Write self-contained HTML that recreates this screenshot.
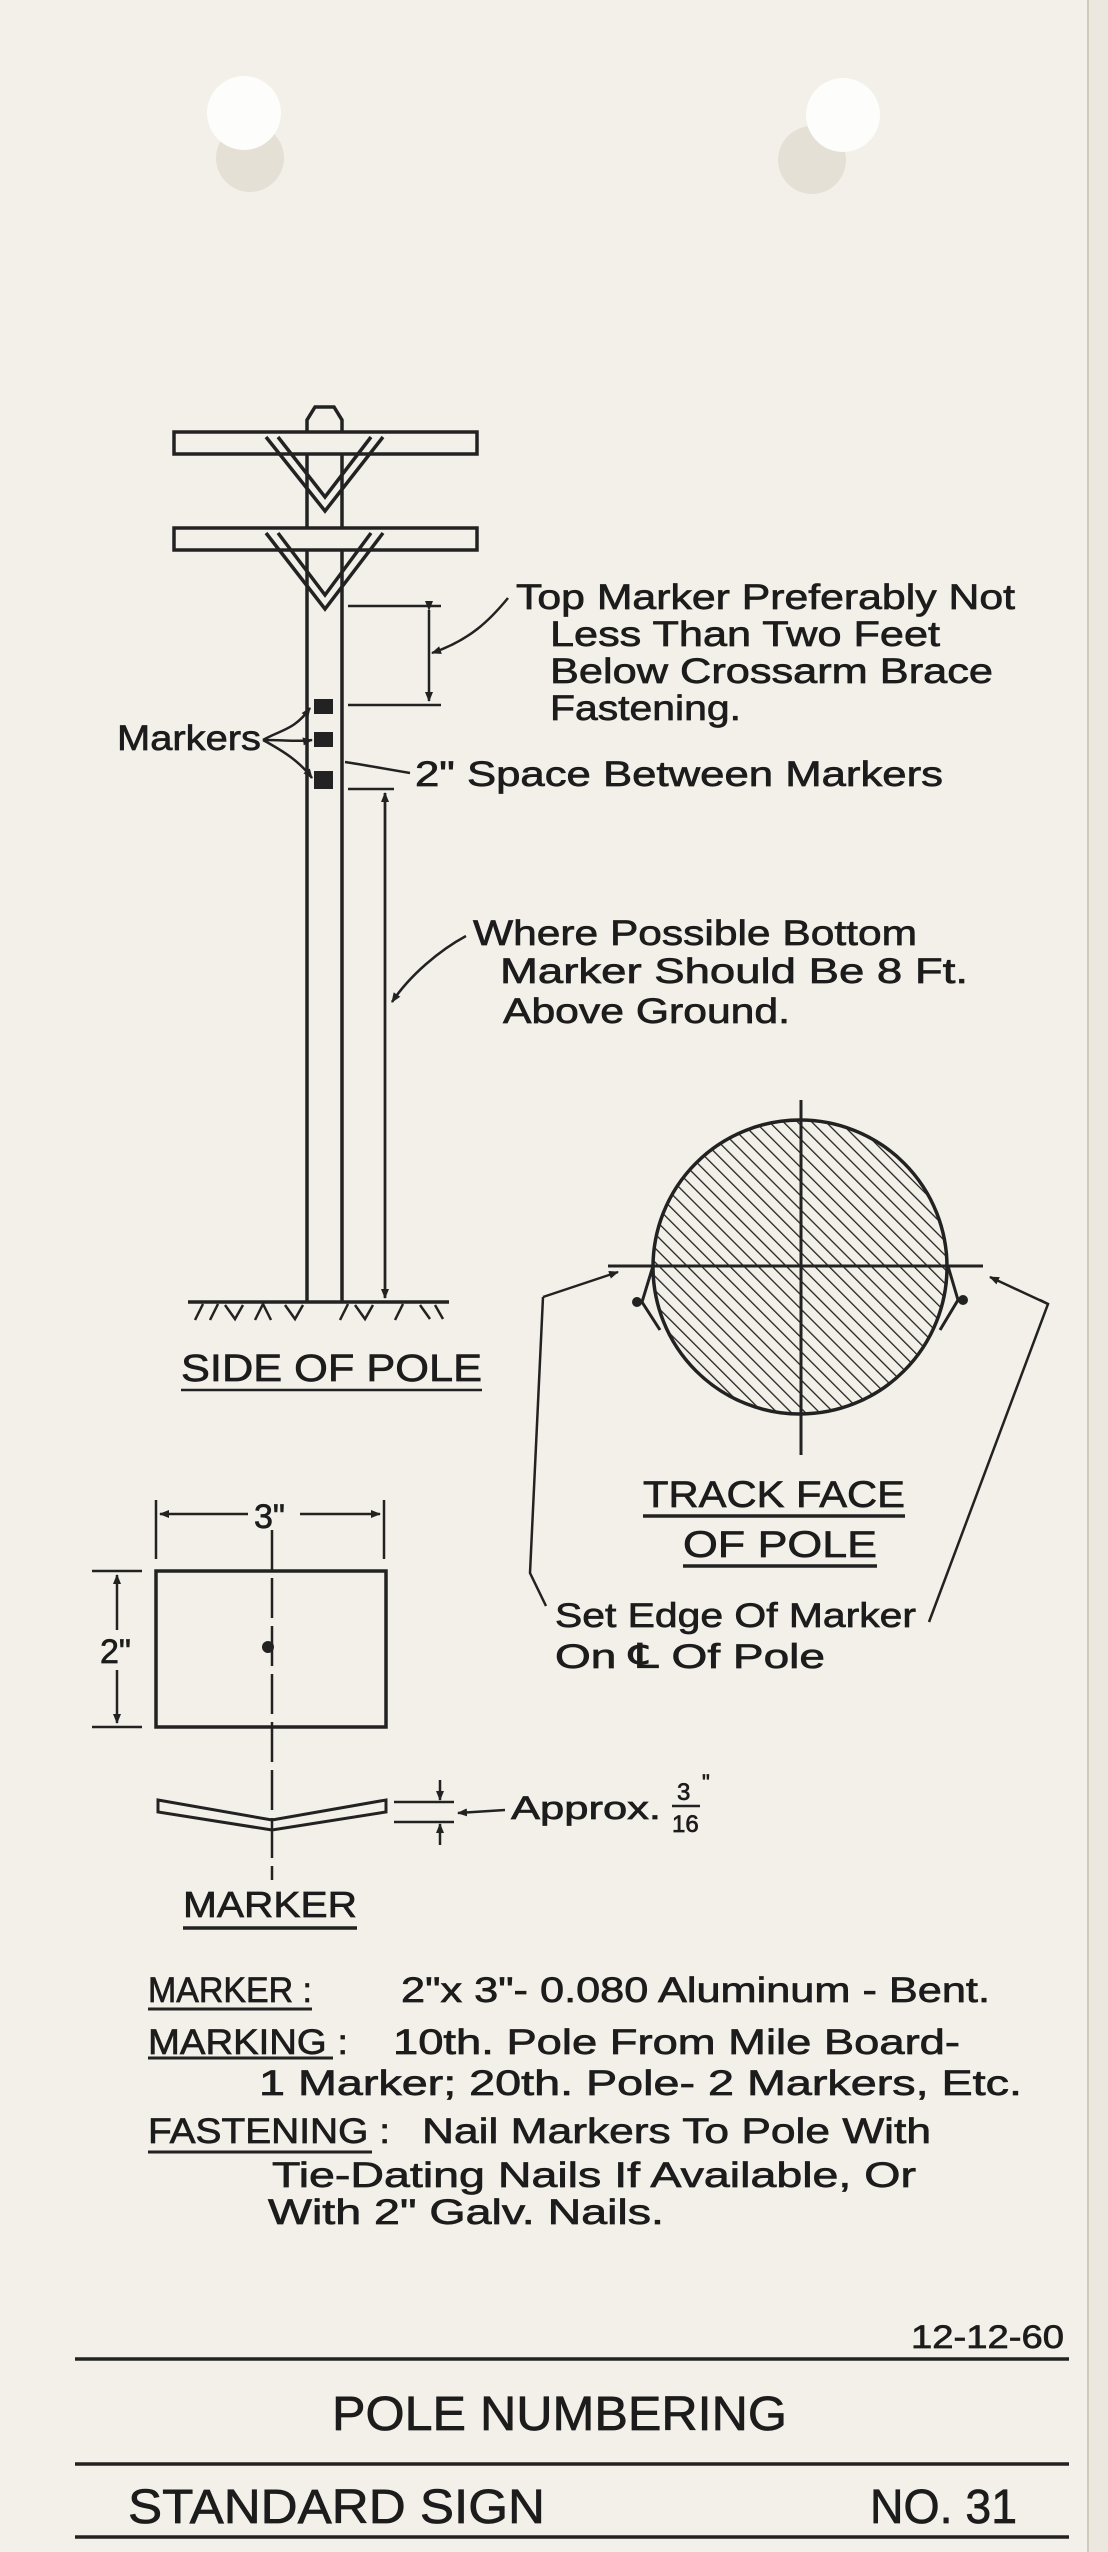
<!DOCTYPE html>
<html><head><meta charset="utf-8"><style>
html,body{margin:0;padding:0;background:#f2f0e8;}
svg{display:block;}
text{font-family:"Liberation Sans",sans-serif;fill:#1c1c1c;stroke:#1c1c1c;stroke-width:0.7;}
</style></head><body>
<svg width="1108" height="2552" viewBox="0 0 1108 2552" xmlns="http://www.w3.org/2000/svg">
<defs>
<pattern id="h" patternUnits="userSpaceOnUse" width="10" height="10" patternTransform="rotate(-45)">
<line x1="0" y1="0" x2="0" y2="10" stroke="#222" stroke-width="2.6"/>
</pattern>
<clipPath id="c"><circle cx="800" cy="1267" r="147"/></clipPath>
<marker id="a" markerWidth="10" markerHeight="10" refX="9" refY="5" orient="auto" markerUnits="userSpaceOnUse"><path d="M0,1 L10,5 L0,9 Z" fill="#222"/></marker>
</defs>
<rect width="1108" height="2552" fill="#f2f0e8"/>
<rect x="1088" y="0" width="20" height="2552" fill="#ebe8df"/>
<line x1="1088" y1="0" x2="1088" y2="2552" stroke="#cfcabc" stroke-width="2"/>
<!-- holes -->
<circle cx="250" cy="158" r="34" fill="#e4e0d5"/>
<circle cx="244" cy="113" r="37" fill="#fdfdfb"/>
<circle cx="812" cy="160" r="34" fill="#e4e0d5"/>
<circle cx="843" cy="115" r="37" fill="#fdfdfb"/>

<g stroke="#222" stroke-width="3.5" fill="none">
<!-- pole -->
<path d="M307,1302 V420 L315,407 H334 L342,420 V1302"/>
<rect x="174" y="432" width="303" height="22" fill="#f2f0e8"/>
<rect x="174" y="528" width="303" height="22" fill="#f2f0e8"/>
<path d="M266,437 L325,511 L383,437 M278,437 L325,497 L371,437"/>
<path d="M266,533 L325,609 L383,533 M278,533 L325,595 L371,533"/>
<line x1="188" y1="1302" x2="449" y2="1302"/>
<path d="M195,1320 l8,-16 M210,1320 l8,-16 M225,1305 l10,14 l8,-14 M255,1320 l8,-16 l8,16 M285,1305 l10,14 l8,-14 M340,1320 l8,-16 M355,1305 l10,14 l8,-14 M395,1320 l8,-16 M420,1305 l10,14 M435,1305 l8,14" stroke-width="2.5"/>
</g>
<rect x="314" y="699" width="19" height="15" fill="#222"/>
<rect x="314" y="732" width="19" height="15" fill="#222"/>
<rect x="314" y="771" width="19" height="18" fill="#222"/>
<g stroke="#222" stroke-width="2.5" fill="none">
<line x1="348" y1="606" x2="441" y2="606"/><line x1="348" y1="705" x2="441" y2="705"/>
<line x1="429" y1="610" x2="429" y2="701" marker-start="url(#a)" marker-end="url(#a)"/>
<path d="M508,598 C490,620 470,640 432,653" marker-end="url(#a)"/>
<line x1="348" y1="789" x2="394" y2="789"/>
<line x1="385" y1="793" x2="385" y2="1298" marker-end="url(#a)"/>
<line x1="385" y1="1298" x2="385" y2="793" marker-end="url(#a)"/>
<path d="M466,936 C440,950 410,975 392,1002" marker-end="url(#a)"/>
<path d="M263,740 C280,730 295,730 310,708" marker-end="url(#a)"/>
<path d="M263,740 C285,740 300,742 312,740" marker-end="url(#a)"/>
<path d="M263,740 C285,752 300,762 312,778" marker-end="url(#a)"/>
<path d="M410,773 C380,768 365,765 345,762"/>
<line x1="181" y1="1390" x2="482" y2="1390"/>
</g>
<text x="516" y="609" font-size="35" textLength="499" lengthAdjust="spacingAndGlyphs">Top Marker Preferably Not</text>
<text x="550" y="646" font-size="35" textLength="390" lengthAdjust="spacingAndGlyphs">Less Than Two Feet</text>
<text x="550" y="683" font-size="35" textLength="443" lengthAdjust="spacingAndGlyphs">Below Crossarm Brace</text>
<text x="550" y="720" font-size="35" textLength="191" lengthAdjust="spacingAndGlyphs">Fastening.</text>
<text x="117" y="750" font-size="35" textLength="144" lengthAdjust="spacingAndGlyphs">Markers</text>
<text x="415" y="786" font-size="35" textLength="528" lengthAdjust="spacingAndGlyphs">2" Space Between Markers</text>
<text x="473" y="945" font-size="35" textLength="444" lengthAdjust="spacingAndGlyphs">Where Possible Bottom</text>
<text x="500" y="983" font-size="35" textLength="468" lengthAdjust="spacingAndGlyphs">Marker Should Be 8 Ft.</text>
<text x="503" y="1023" font-size="35" textLength="287" lengthAdjust="spacingAndGlyphs">Above Ground.</text>
<text x="181" y="1381" font-size="38" textLength="301" lengthAdjust="spacingAndGlyphs">SIDE OF POLE</text>

<!-- circle -->
<rect x="640" y="1110" width="330" height="320" fill="url(#h)" clip-path="url(#c)"/>
<g stroke="#222" stroke-width="3.5" fill="none">
<circle cx="800" cy="1267" r="147"/>
<line x1="608" y1="1266" x2="983" y2="1266" stroke-width="3"/>
<line x1="801" y1="1100" x2="801" y2="1455" stroke-width="3"/>
<path d="M653,1266 L642,1302 L660,1330 M948,1266 L958,1300 L940,1330" stroke-width="3"/>
<path d="M543,1297 L530,1573 L546,1606" stroke-width="2.5"/>
<path d="M1040,1300 L1048,1304 L929,1622" stroke-width="2.5"/>
<line x1="1048" y1="1304" x2="990" y2="1277" stroke-width="2.5" marker-end="url(#a)"/>
<line x1="543" y1="1297" x2="618" y2="1272" stroke-width="2.5" marker-end="url(#a)"/>
<line x1="643" y1="1516" x2="905" y2="1516"/>
<line x1="683" y1="1566" x2="877" y2="1566"/>
</g>
<circle cx="637" cy="1302" r="5" fill="#222"/>
<circle cx="963" cy="1300" r="5" fill="#222"/>
<text x="643" y="1507" font-size="37" textLength="262" lengthAdjust="spacingAndGlyphs">TRACK FACE</text>
<text x="683" y="1557" font-size="37" textLength="194" lengthAdjust="spacingAndGlyphs">OF POLE</text>
<text x="555" y="1627" font-size="34" textLength="361" lengthAdjust="spacingAndGlyphs">Set Edge Of Marker</text>
<text x="555" y="1668" font-size="34" textLength="270" lengthAdjust="spacingAndGlyphs">On ℄ Of Pole</text>

<!-- marker detail -->
<g stroke="#222" stroke-width="3.5" fill="none">
<rect x="156" y="1571" width="230" height="156"/>
<path d="M156,1500 V1559 M384,1500 V1559" stroke-width="2.5"/>
<line x1="248" y1="1514" x2="160" y2="1514" stroke-width="2.5" marker-end="url(#a)"/>
<line x1="300" y1="1514" x2="380" y2="1514" stroke-width="2.5" marker-end="url(#a)"/>
<path d="M92,1571 H142 M92,1727 H142" stroke-width="2.5"/>
<line x1="117" y1="1630" x2="117" y2="1575" stroke-width="2.5" marker-end="url(#a)"/>
<line x1="117" y1="1670" x2="117" y2="1723" stroke-width="2.5" marker-end="url(#a)"/>
<line x1="272" y1="1530" x2="272" y2="1880" stroke-width="2.5" stroke-dasharray="40,8"/>
<path d="M158,1800 L272,1820 L386,1800 L386,1812 L272,1830 L158,1812 Z" stroke-width="3"/>
<path d="M394,1802 H454 M394,1822 H454" stroke-width="2.5"/>
<line x1="440" y1="1780" x2="440" y2="1800" stroke-width="2.5" marker-end="url(#a)"/>
<line x1="440" y1="1845" x2="440" y2="1824" stroke-width="2.5" marker-end="url(#a)"/>
<line x1="505" y1="1810" x2="458" y2="1813" stroke-width="2.5" marker-end="url(#a)"/>
<line x1="183" y1="1928" x2="357" y2="1928"/>
<line x1="672" y1="1806" x2="700" y2="1806" stroke-width="2.5"/>
</g>
<circle cx="268" cy="1647" r="6" fill="#222"/>
<text x="254" y="1528" font-size="34">3"</text>
<text x="100" y="1663" font-size="34">2"</text>
<text x="511" y="1819" font-size="32" textLength="150" lengthAdjust="spacingAndGlyphs">Approx.</text>
<text x="677" y="1800" font-size="24">3</text>
<text x="672" y="1832" font-size="24">16</text>
<text x="702" y="1790" font-size="22">"</text>
<text x="183" y="1917" font-size="36" textLength="174" lengthAdjust="spacingAndGlyphs">MARKER</text>

<!-- spec -->
<g stroke="#222" stroke-width="3" fill="none">
<line x1="148" y1="2009" x2="312" y2="2009"/>
<line x1="148" y1="2058" x2="333" y2="2058"/>
<line x1="148" y1="2152" x2="372" y2="2152"/>
</g>
<text x="148" y="2002" font-size="35" textLength="164" lengthAdjust="spacingAndGlyphs">MARKER :</text>
<text x="401" y="2002" font-size="35" textLength="589" lengthAdjust="spacingAndGlyphs">2"x 3"- 0.080 Aluminum - Bent.</text>
<text x="148" y="2054" font-size="35" textLength="200" lengthAdjust="spacingAndGlyphs">MARKING :</text>
<text x="393" y="2054" font-size="35" textLength="567" lengthAdjust="spacingAndGlyphs">10th. Pole From Mile Board-</text>
<text x="259" y="2095" font-size="35" textLength="763" lengthAdjust="spacingAndGlyphs">1 Marker;  20th. Pole- 2 Markers, Etc.</text>
<text x="148" y="2143" font-size="35" textLength="242" lengthAdjust="spacingAndGlyphs">FASTENING :</text>
<text x="422" y="2143" font-size="35" textLength="509" lengthAdjust="spacingAndGlyphs">Nail Markers To Pole With</text>
<text x="272" y="2187" font-size="35" textLength="644" lengthAdjust="spacingAndGlyphs">Tie-Dating Nails If Available, Or</text>
<text x="268" y="2224" font-size="35" textLength="396" lengthAdjust="spacingAndGlyphs">With 2" Galv. Nails.</text>

<!-- title block -->
<text x="911" y="2348" font-size="32" textLength="153" lengthAdjust="spacingAndGlyphs">12-12-60</text>
<g stroke="#222" stroke-width="3.5">
<line x1="75" y1="2359" x2="1069" y2="2359"/>
<line x1="75" y1="2464" x2="1069" y2="2464"/>
<line x1="75" y1="2537" x2="1069" y2="2537"/>
</g>
<text x="332" y="2430" font-size="48" textLength="455" lengthAdjust="spacingAndGlyphs">POLE  NUMBERING</text>
<text x="128" y="2523" font-size="48" textLength="417" lengthAdjust="spacingAndGlyphs">STANDARD  SIGN</text>
<text x="870" y="2523" font-size="48" textLength="147" lengthAdjust="spacingAndGlyphs">NO. 31</text>
</svg>
</body></html>
